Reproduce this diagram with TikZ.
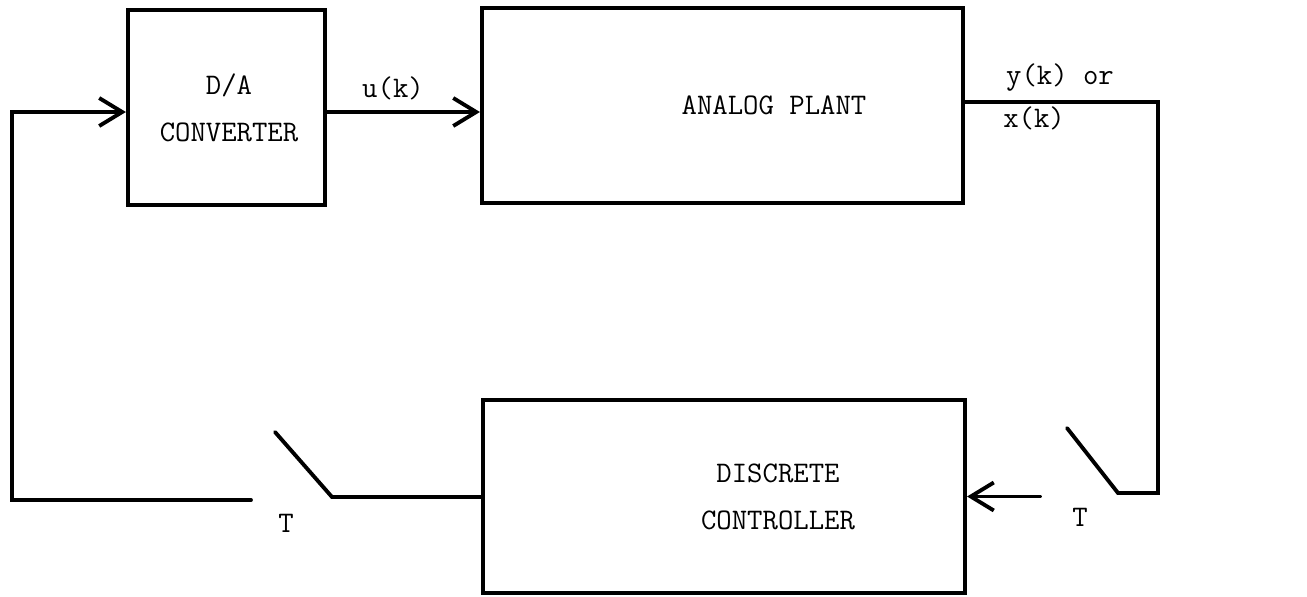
\documentclass[tikz,border=0pt]{standalone}
\usetikzlibrary{arrows.meta}

\tikzset{
    block/.style={draw, line width=2.4pt, inner sep=0pt},
    txt/.style={align=center, inner sep=0pt, font=\ttfamily\fontsize{17}{27}\selectfont},
    wire/.style={line width=2.2pt, line cap=round, line join=miter},
    barb/.style={-{Straight Barb[length=4.6mm,width=5.6mm,line width=2.2pt]}},
    lbl/.style={font=\ttfamily\fontsize{17}{20}\selectfont, inner sep=0pt}
}

\begin{document}
\begin{tikzpicture}[x=0.02cm, y=-0.02cm]
    \useasboundingbox (0,0) rectangle (1307,596);

    % blocks
    \node[block, minimum width=3.94cm, minimum height=3.9cm] (da) at (226.5,107.5) {};
    \node[block, minimum width=9.62cm, minimum height=3.9cm] (plant) at (722.5,105.5) {};
    \node[block, minimum width=9.64cm, minimum height=3.86cm] (ctrl) at (724,496.5) {};
    \node[txt] (daText) at (229,108) {D/A\\CONVERTER};
    \node[txt] (plantText) at (774,105) {ANALOG PLANT};
    \node[txt] (ctrlText) at (778,497) {DISCRETE\\CONTROLLER};

    % switch and corner points
    \coordinate (outR) at (1158,102);
    \coordinate (dnR) at (1158,493);
    \coordinate (swRa) at (1118,493);
    \coordinate (swRb) at (1067,428);
    \coordinate (inR) at (1040,496.5);
    \coordinate (swLa) at (332,497);
    \coordinate (swLb) at (275,432);
    \coordinate (inL) at (251,500);
    \coordinate (dnL) at (12,500);
    \coordinate (upL) at (12,112);

    % forward path
    \draw[wire, barb] (da.east |- upL) -- (plant.west |- upL);
    \draw[wire] (plant.east |- outR) -- (outR) -- (dnR) -- (swRa) -- (swRb);
    \draw[wire, barb] (inR) -- (ctrl.east);

    % feedback path
    \draw[wire] (ctrl.west |- swLa) -- (swLa) -- (swLb);
    \draw[wire, barb] (inL) -- (dnL) -- (upL) -- (da.west |- upL);

    % labels
    \node[lbl] (uk) at (393,88) {u(k)};
    \node[lbl] (yk) at (1060,78) {y(k) or};
    \node[lbl] (xk) at (1034,118) {x(k)};
    \node[lbl] (tL) at (286,523) {T};
    \node[lbl] (tR) at (1080,517) {T};
\end{tikzpicture}
\end{document}
